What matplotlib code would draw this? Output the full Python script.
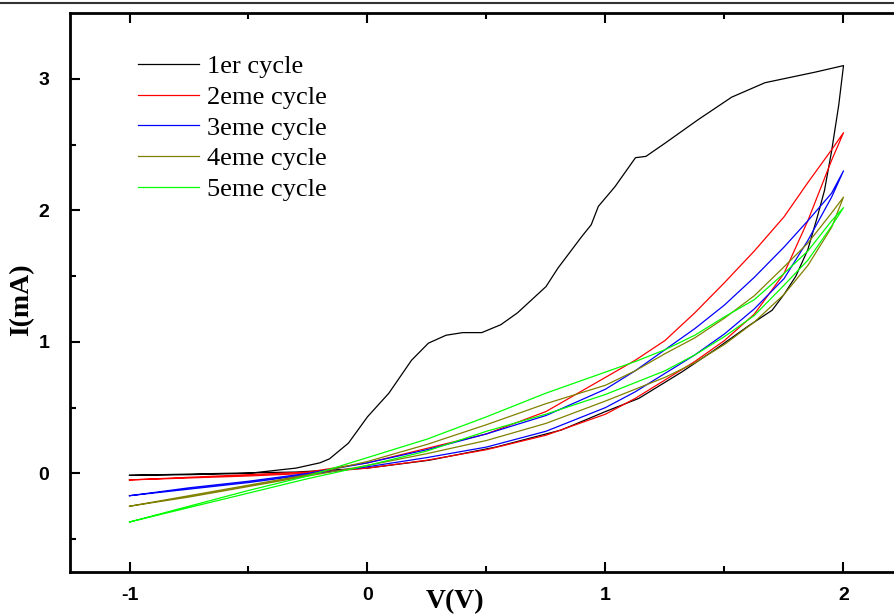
import numpy as np
import matplotlib.pyplot as plt
from matplotlib.lines import Line2D

plt.rcParams['axes.unicode_minus'] = False

# cycle 1 (black): sweep up (upper branch) then return
v1_up = [-1.0, -0.75, -0.5, -0.3, -0.2, -0.16, -0.08, 0.0, 0.09, 0.185, 0.256, 0.33, 0.40, 0.48,
         0.56, 0.63, 0.69, 0.75, 0.80, 0.90, 0.94, 0.97, 1.04, 1.126, 1.17, 1.25, 1.39, 1.53,
         1.67, 1.88, 2.0]
i1_up = [-0.015, -0.01, 0.0, 0.04, 0.08, 0.11, 0.23, 0.43, 0.61, 0.86, 0.99, 1.05, 1.07, 1.07,
         1.13, 1.22, 1.32, 1.42, 1.56, 1.80, 1.89, 2.03, 2.18, 2.40, 2.41, 2.51, 2.69, 2.86,
         2.97, 3.05, 3.10]
v1_dn = [2.0, 1.98, 1.95, 1.92, 1.89, 1.85, 1.80, 1.75, 1.70, 1.60, 1.46, 1.32, 1.14, 1.0,
         0.815, 0.54, 0.26, 0.0, -0.3, -0.6, -1.0]
i1_dn = [3.10, 2.80, 2.45, 2.15, 1.95, 1.70, 1.50, 1.36, 1.24, 1.12, 0.94, 0.77, 0.57, 0.47,
         0.33, 0.20, 0.10, 0.04, 0.01, 0.0, -0.015]

# cycles 2-5 share the same voltage grid
vg = [-1.0, -0.75, -0.5, -0.25, 0.0, 0.25, 0.5, 0.75, 1.0, 1.125, 1.25, 1.375, 1.5, 1.625,
      1.75, 1.85, 1.95, 2.0]

i2_lo = [-0.05, -0.035, -0.02, 0.0, 0.04, 0.10, 0.18, 0.29, 0.45, 0.57, 0.71, 0.85, 1.01, 1.21,
         1.52, 1.92, 2.38, 2.59]
i2_hi = [-0.05, -0.03, -0.01, 0.01, 0.08, 0.19, 0.30, 0.47, 0.73, 0.86, 1.01, 1.22, 1.45, 1.69,
         1.95, 2.21, 2.46, 2.59]

i3_lo = [-0.17, -0.12, -0.07, -0.01, 0.05, 0.12, 0.20, 0.32, 0.50, 0.62, 0.76, 0.90, 1.06, 1.25,
         1.48, 1.77, 2.10, 2.30]
i3_hi = [-0.17, -0.11, -0.06, 0.0, 0.08, 0.18, 0.30, 0.44, 0.64, 0.78, 0.94, 1.10, 1.28, 1.49,
         1.72, 1.92, 2.13, 2.30]

i4_lo = [-0.25, -0.18, -0.10, -0.02, 0.06, 0.15, 0.25, 0.38, 0.55, 0.64, 0.73, 0.84, 0.98, 1.15,
         1.36, 1.58, 1.87, 2.10]
i4_hi = [-0.25, -0.17, -0.09, -0.01, 0.09, 0.22, 0.37, 0.53, 0.67, 0.78, 0.91, 1.03, 1.18, 1.35,
         1.57, 1.75, 1.98, 2.10]

i5_lo = [-0.37, -0.26, -0.15, -0.04, 0.06, 0.17, 0.32, 0.45, 0.60, 0.69, 0.78, 0.90, 1.04, 1.20,
         1.43, 1.62, 1.88, 2.02]
i5_hi = [-0.37, -0.25, -0.13, -0.02, 0.12, 0.26, 0.43, 0.61, 0.77, 0.85, 0.94, 1.05, 1.19, 1.32,
         1.52, 1.69, 1.92, 2.02]

labels = ["1er cycle", "2eme cycle", "3eme cycle", "4eme cycle", "5eme cycle"]
colors = ["#000000", "#ff0000", "#0000ff", "#808000", "#00ff00"]

W, H = 895, 616
fig = plt.figure(figsize=(W/100, H/100), dpi=100)
ax = fig.add_axes([70/W, 44/H, 833/W, 559/H])

ax.plot(v1_up + v1_dn, i1_up + i1_dn, color=colors[0], lw=0.9)
for lo, hi, c in [(i2_lo, i2_hi, colors[1]), (i3_lo, i3_hi, colors[2]),
                  (i4_lo, i4_hi, colors[3]), (i5_lo, i5_hi, colors[4])]:
    ax.plot(vg + vg[::-1], lo + hi[::-1], color=c, lw=0.9)

ax.set_xlim(-1.25, 2.25)
ax.set_ylim(-0.75, 3.5)
ax.set_xticks([-1, 0, 1, 2])
ax.set_xticks([-0.5, 0.5, 1.5], minor=True)
ax.set_yticks([0, 1, 2, 3])
ax.set_yticks([-0.5, 0.5, 1.5, 2.5], minor=True)
ax.tick_params(which='both', direction='in', top=True, right=False, width=1.5)
ax.tick_params(which='major', length=7)
ax.tick_params(which='minor', length=4)
ax.tick_params(axis='x', which='major', pad=11)
ax.tick_params(axis='y', which='major', pad=15)
for t in ax.get_xticklabels() + ax.get_yticklabels():
    t.set_fontfamily('Liberation Sans')
    t.set_fontweight('bold')
    t.set_fontsize(14)
for s in ['left', 'bottom', 'top']:
    ax.spines[s].set_linewidth(2)
ax.spines['right'].set_visible(False)

fig.text(455/W, 1 - 602/H, "V(V)", family='Liberation Serif', weight='bold', fontsize=20,
         ha='center', va='center')
fig.text(22/W, 1 - 300/H, "I(mA)", family='Liberation Serif', weight='bold', fontsize=20,
         ha='center', va='center', rotation=90)

handles = [Line2D([], [], color=c, lw=0.9) for c in colors]
fig.legend(handles, labels, loc='upper left', bbox_to_anchor=(138/W, 1 - 55/H),
           frameon=False, borderpad=0, borderaxespad=0, handlelength=2.3,
           handletextpad=0.3, labelspacing=0.27,
           prop={'family': 'Liberation Serif', 'size': 19})

# page rule above the chart
fig.add_artist(Line2D([0, 1], [1 - 3/H, 1 - 3/H], color='#333333', lw=1.5))

fig.savefig("out.png", dpi=100)
